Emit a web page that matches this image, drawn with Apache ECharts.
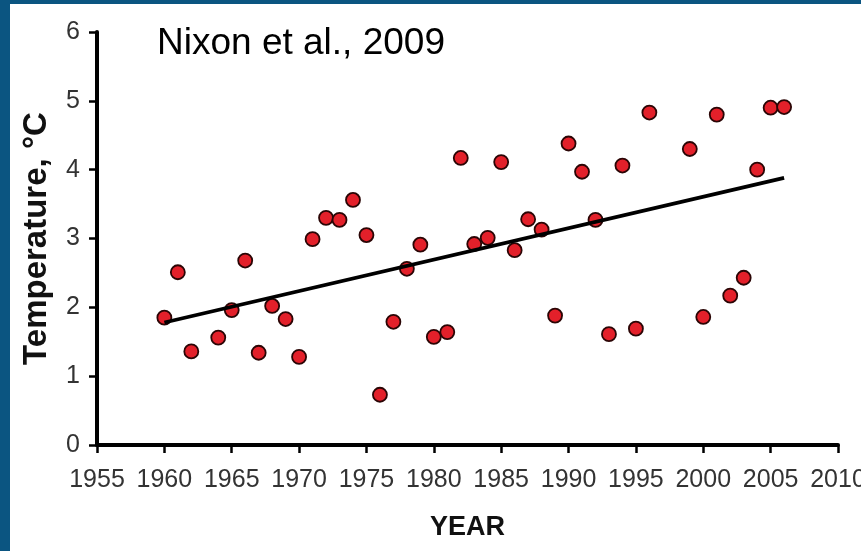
<!DOCTYPE html>
<html>
<head>
<meta charset="utf-8">
<script src="https://cdn.jsdelivr.net/npm/echarts@6/dist/echarts.min.js"></script>
<style>
html,body{margin:0;padding:0;background:#fff;}
#chart{width:861px;height:551px;}
</style>
</head>
<body>
<div id="chart"></div>
<script>
var years = [1960,1961,1962,1964,1965,1966,1967,1968,1969,1970,1971,1972,1973,1974,1975,1976,1977,1978,1979,1980,1981,1982,1983,1984,1985,1986,1987,1988,1989,1990,1991,1992,1993,1994,1995,1996,1999,2000,2001,2002,2003,2004,2005,2006];
var temps = [1.85,2.51,1.36,1.56,1.96,2.68,1.34,2.02,1.83,1.28,2.99,3.30,3.27,3.56,3.05,0.73,1.79,2.56,2.91,1.57,1.64,4.17,2.92,3.01,4.11,2.83,3.28,3.13,1.88,4.38,3.97,3.27,1.61,4.06,1.69,4.83,4.30,1.86,4.80,2.17,2.43,4.00,4.90,4.91];
// Trend line end points
var trendYears = [1960, 2006];
var trendTemps = [1.78, 3.88];
// Axis ticks
var xTicks = [1955,1960,1965,1970,1975,1980,1985,1990,1995,2000,2005,2010];
var yTicks = [0,1,2,3,4,5,6];

var tickFont = 'Liberation Sans';
var tickSize = 25;

var points = years.map(function(y,i){ return [y, temps[i]]; });
var trend = trendYears.map(function(y,i){ return [y, trendTemps[i]]; });

var chart = echarts.init(document.getElementById('chart'), null, {renderer:'canvas'});
chart.setOption({
  animation:false,
  backgroundColor:'#ffffff',
  graphic:[
    {type:'rect', left:0, top:0, shape:{width:10, height:551}, style:{fill:'#0b5581'}, z:100},
    {type:'rect', left:0, top:0, shape:{width:861, height:4}, style:{fill:'#0b5581'}, z:100},
    {type:'text', left:157, top:25, style:{text:'Nixon et al., 2009', fill:'#000', font:'37px "Liberation Sans", Arial, sans-serif'}, z:50}
  ],
  grid:{left:97, right:23, top:32, bottom:106, containLabel:false, outerBoundsMode:'none'},
  xAxis:{
    type:'value', min:xTicks[0], max:xTicks[xTicks.length-1], interval:5,
    name:'YEAR', nameLocation:'middle', nameGap:69,
    nameTextStyle:{color:'#111', fontFamily:'Liberation Sans', fontWeight:'bold', fontSize:27},
    axisLine:{show:true, onZero:false, lineStyle:{color:'#000', width:4}},
    axisTick:{show:true, length:8, lineStyle:{color:'#000', width:2.5}},
    axisLabel:{color:'#333', fontFamily:tickFont, fontSize:tickSize, margin:23,
      formatter:function(v){ return String(v); }},
    splitLine:{show:false}
  },
  yAxis:{
    type:'value', min:yTicks[0], max:yTicks[yTicks.length-1], interval:1,
    name:'Temperature, °C', nameLocation:'middle', nameGap:44, nameRotate:90,
    nameTextStyle:{color:'#111', fontFamily:'Liberation Sans', fontWeight:'bold', fontSize:33},
    axisLine:{show:true, onZero:false, lineStyle:{color:'#000', width:4}},
    axisTick:{show:true, length:8, lineStyle:{color:'#000', width:2.5}},
    axisLabel:{color:'#333', fontFamily:tickFont, fontSize:tickSize, margin:17,
      formatter:function(v){ return String(v); }},
    splitLine:{show:false}
  },
  series:[
    {type:'scatter', data:points, symbol:'circle', symbolSize:14,
     itemStyle:{color:'#e3202a', borderColor:'#2a0505', borderWidth:1.8, opacity:1}, z:2},
    {type:'line', data:trend, showSymbol:false, symbol:'none',
     lineStyle:{color:'#000', width:3.8}, z:3}
  ]
});
</script>
</body>
</html>
